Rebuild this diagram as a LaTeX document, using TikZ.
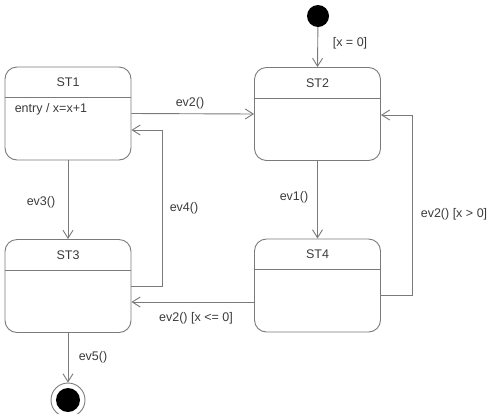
\documentclass[tikz,border=0pt]{standalone}
\usepackage{fontspec}
\setmainfont{Liberation Sans}
\usetikzlibrary{arrows.meta,calc}
\definecolor{linegray}{HTML}{7A7A7A}
\definecolor{textgray}{HTML}{3A3A3A}
\begin{document}
\begin{tikzpicture}[x=1pt,y=-1pt,
  every node/.style={text=textgray,font=\fontsize{12.5}{14}\selectfont},
  state/.style={draw=linegray,line width=0.9pt,rounded corners=12pt,minimum width=126pt,minimum height=93pt,inner sep=0pt},
  tr/.style={draw=linegray,line width=0.9pt,-{Straight Barb[length=8pt,width=10pt]}},
  lbl/.style={inner sep=1pt}]
\useasboundingbox (0,0) rectangle (494,413);
% states
\node[state] (st1) at (68,113.5) {};
\node[state] (st2) at (317.5,114) {};
\node[state] (st3) at (68,286) {};
\node[state] (st4) at (317.5,285.5) {};
\foreach \s/\t in {st1/ST1,st2/ST2,st3/ST3,st4/ST4}{
  \draw[linegray,line width=0.9pt] ($(\s.north west)+(0,31)$) -- ($(\s.north east)+(0,31)$);
  \node[lbl] (\s title) at ($(\s.north)+(0,16)$) {\t};
}
\node[lbl,anchor=west] (entry) at ($(st1.north west)+(9,43)$) {entry / x=x+1};
% initial and final
\node[circle,fill=black,minimum size=22pt,inner sep=0pt] (init) at (318,16) {};
\node[circle,draw=linegray,line width=0.9pt,minimum size=34pt,inner sep=0pt] (final) at (68,400) {};
\node[circle,fill=black,minimum size=24pt,inner sep=0pt] (finalin) at (final.center) {};
% transitions
\draw[tr] (init) -- (st2.north);
\draw[tr] (st1.east) -- (st2.west);
\draw[tr] (st1.south) -- (st3.north);
\draw[tr] (st2.south) -- (st4.north);
\draw[tr] (st3.south) -- (final.north);
\coordinate (c4) at (162,130);
\draw[tr] (st3.east) -| (c4) -- (c4 -| st1.east);
\coordinate (c5) at (412,115);
\draw[tr] ($(st4.east)+(0,9.5)$) -| (c5) -- (c5 -| st2.east);
\draw[tr] ($(st4.west)+(0,16.5)$) -- ($(st3.east)+(0,16)$);
% labels
\node[lbl] (l0) at (350,43) {[x = 0]};
\node[lbl] (l1) at (190,103) {ev2()};
\node[lbl] (l2) at (41,202) {ev3()};
\node[lbl] (l3) at (184,208) {ev4()};
\node[lbl] (l4) at (196,318) {ev2() [x <= 0]};
\node[lbl] (l5) at (93,357) {ev5()};
\node[lbl] (l6) at (294,197) {ev1()};
\node[lbl] (l7) at (454,214) {ev2() [x > 0]};
\end{tikzpicture}
\end{document}
